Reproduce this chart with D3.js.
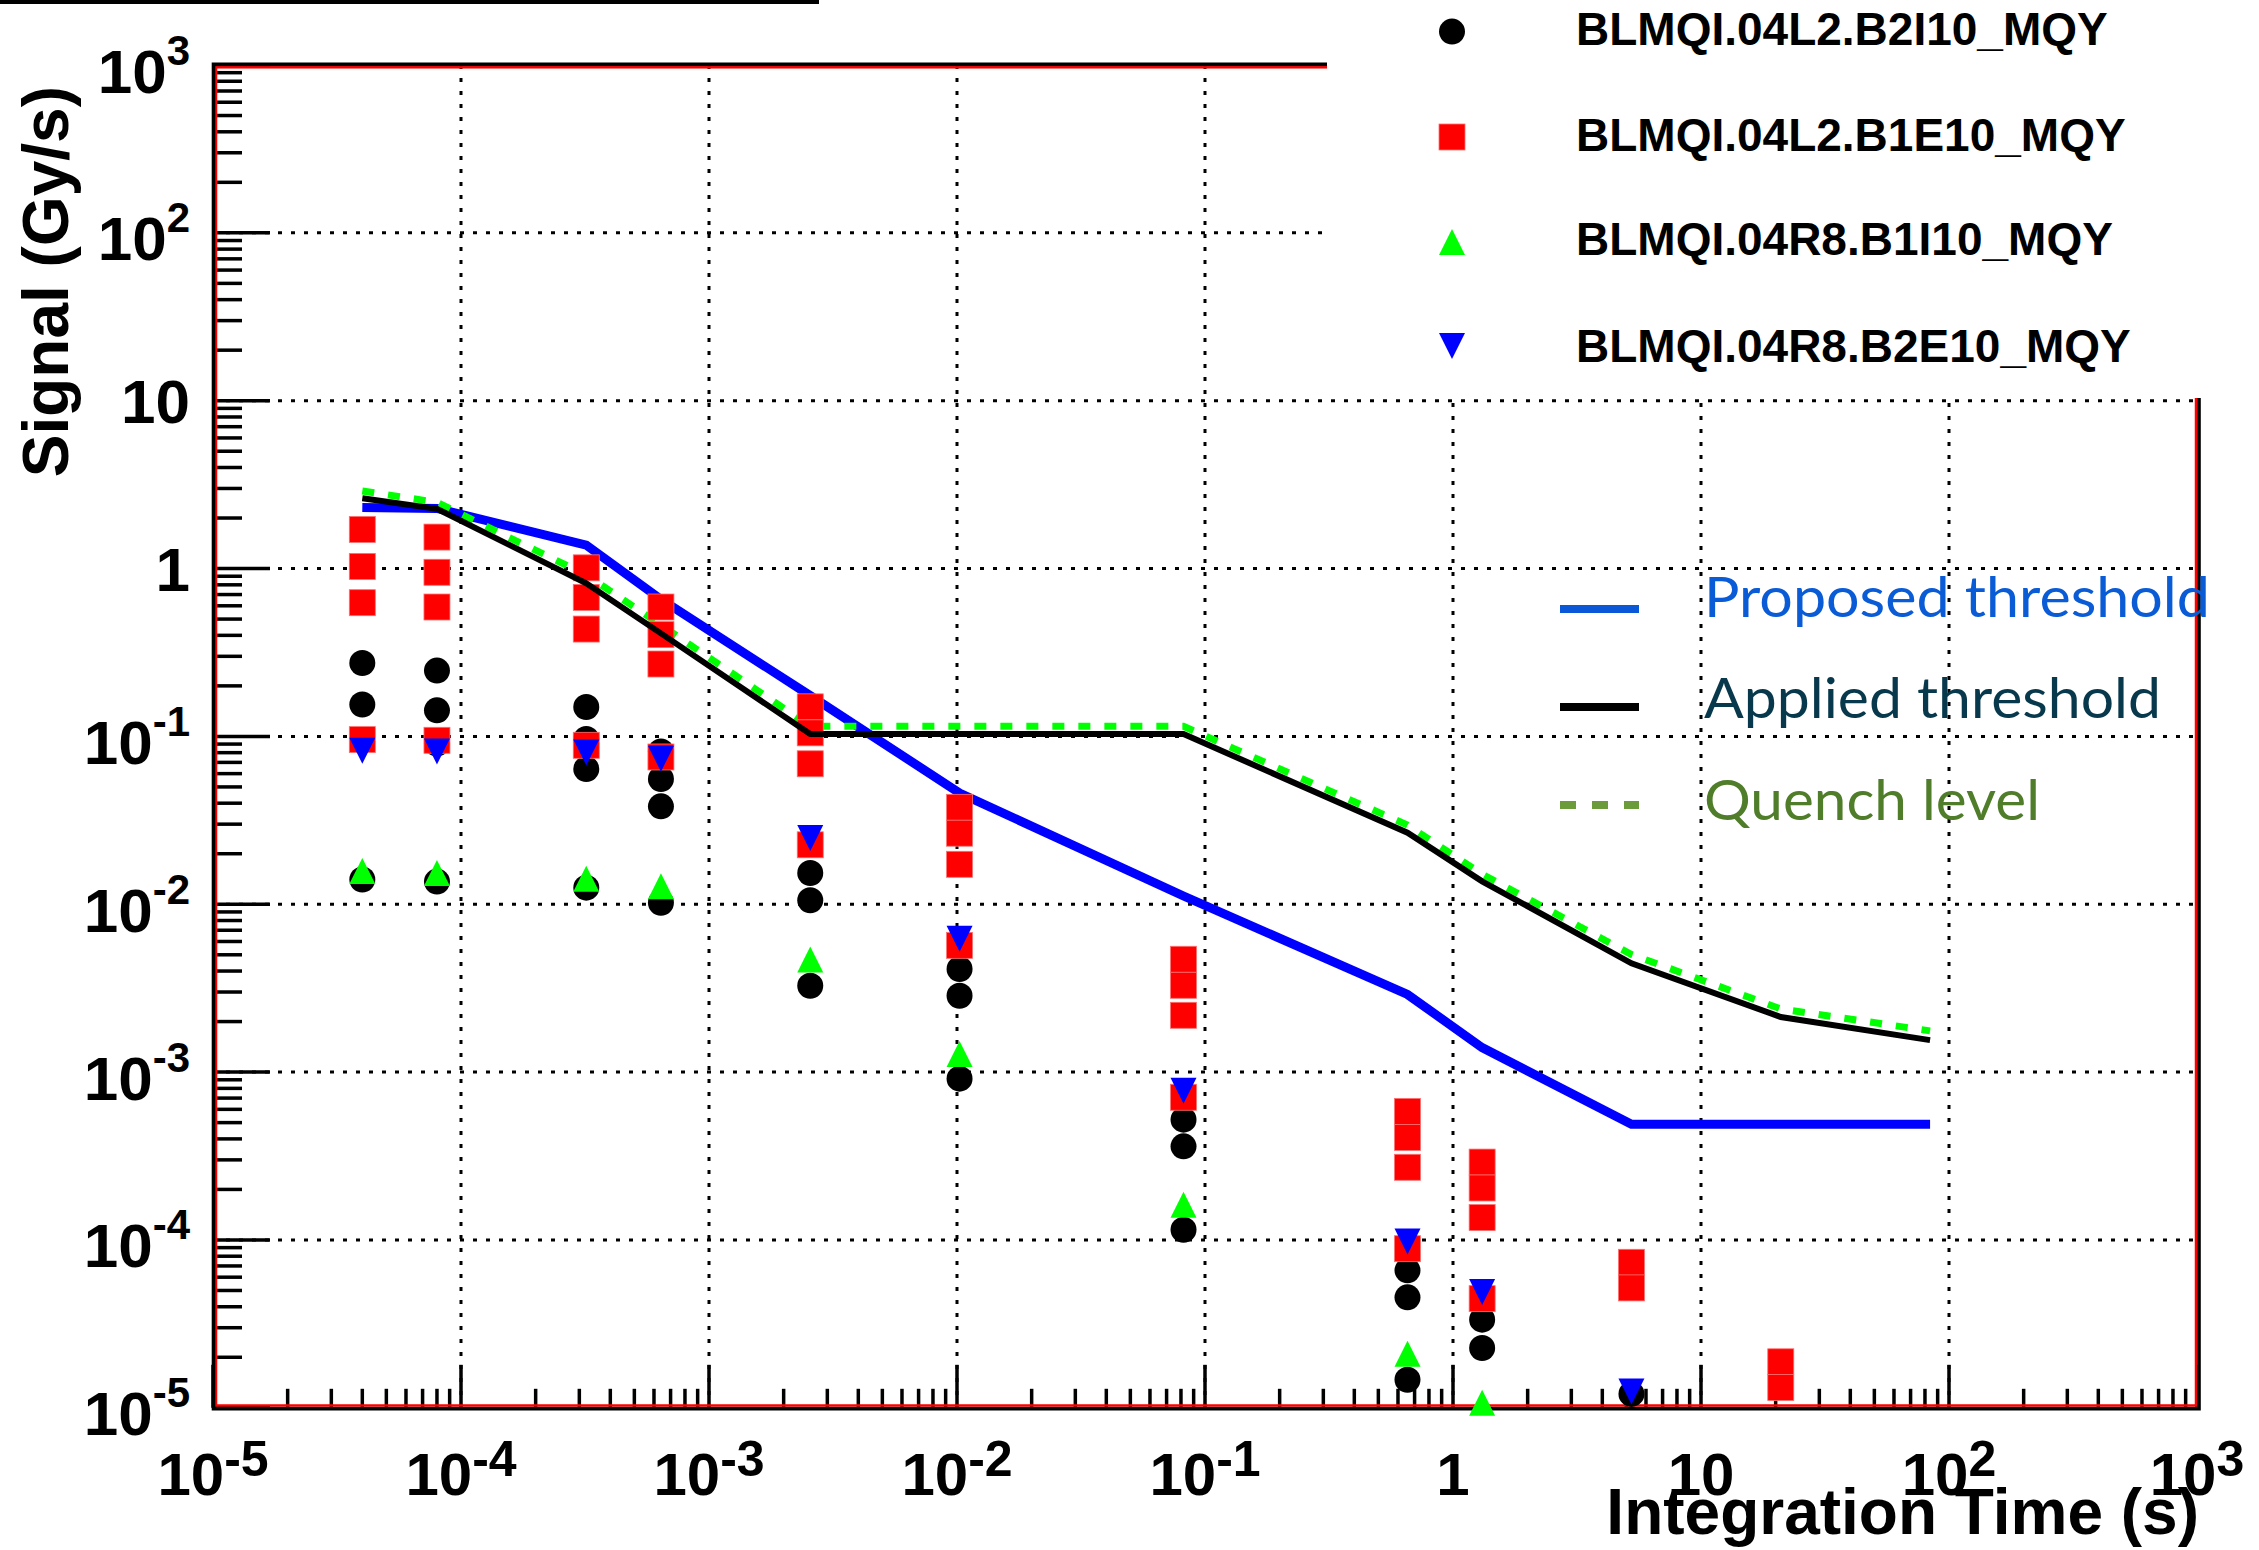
<!DOCTYPE html>
<html><head><meta charset="utf-8">
<script src="https://cdn.jsdelivr.net/npm/d3@7"></script>
<style>body{margin:0;background:#fff}svg{display:block}</style>
</head><body>
<svg id="c" width="2259" height="1550"></svg>
<script>
// ---------------- data ----------------
const times = [4e-5, 8e-5, 3.2e-4, 6.4e-4, 2.56e-3, 1.024e-2, 8.192e-2, 0.65536, 1.31072, 5.24288, 20.97152, 83.88608];
const proposedThreshold = [2.31, 2.28, 1.38, 0.656, 0.175, 0.046, 0.0112, 0.0029, 0.0014, 0.000489, 0.000489, 0.000489];
const appliedThreshold  = [2.62, 2.27, 0.817, 0.411, 0.1033, 0.1033, 0.1033, 0.0267, 0.0137, 0.00445, 0.00213, 0.00155];
const quenchLevel       = [2.90, 2.48, 0.916, 0.461, 0.1148, 0.1148, 0.1148, 0.0296, 0.0151, 0.00502, 0.00238, 0.00176];

// [index into times, signal]
const b2i10 = [[0,0.2735],[0,0.155],[0,0.01403],
  [1,0.2466],[1,0.143],[1,0.0906],[1,0.01365],
  [2,0.1496],[2,0.0966],[2,0.064],[2,0.01256],
  [3,0.0814],[3,0.0557],[3,0.0383],[3,0.0102],
  [4,0.01535],[4,0.01056],[4,0.00327],
  [5,0.00411],[5,0.00285],[5,0.000914],
  [6,0.000521],[6,0.000361],[6,0.000115],
  [7,6.59e-5],[7,4.55e-5],[7,1.47e-5],
  [8,3.35e-5],[8,2.27e-5],
  [9,1.21e-5]];
const b1e10 = [[0,1.71],[0,1.03],[0,0.626],[0,0.0957],
  [1,1.54],[1,0.95],[1,0.59],[1,0.0948],
  [2,1.01],[2,0.673],[2,0.436],[2,0.0885],
  [3,0.59],[3,0.404],[3,0.27],[3,0.0754],
  [4,0.150],[4,0.105],[4,0.0687],[4,0.0226],
  [5,0.0378],[5,0.0265],[5,0.0173],[5,0.00569],
  [6,0.0047],[6,0.00329],[6,0.00218],[6,0.000708],
  [7,0.000583],[7,0.000408],[7,0.000271],[7,8.87e-5],
  [8,0.000291],[8,0.000204],[8,0.000136],[8,4.47e-5],
  [9,7.36e-5],[9,5.18e-5],
  [10,1.88e-5],[10,1.32e-5]];
const b1i10 = [[0,0.0158],[1,0.01535],[2,0.0142],[3,0.0128],[4,0.00468],[5,0.00128],[6,0.000162],[7,2.10e-5],[8,1.07e-5]];
const b2e10 = [[0,0.0822],[1,0.0814],[2,0.0803],[3,0.0736],[4,0.0248],[5,0.00623],[6,0.000775],[7,9.8e-5],[8,4.9e-5],[9,1.25e-5]];

const seriesNames = ["BLMQI.04L2.B2I10_MQY", "BLMQI.04L2.B1E10_MQY", "BLMQI.04R8.B1I10_MQY", "BLMQI.04R8.B2E10_MQY"];
const lineLegendNames = ["Proposed threshold", "Applied threshold", "Quench level"];
const xTickValues = [1e-5,1e-4,1e-3,1e-2,1e-1,1,10,100,1000];
const xTickLabels = ["10^-5","10^-4","10^-3","10^-2","10^-1","1","10","10^2","10^3"];
const yTickValues = [1e3,1e2,10,1,1e-1,1e-2,1e-3,1e-4,1e-5];
const yTickLabels = ["10^3","10^2","10","1","10^-1","10^-2","10^-3","10^-4","10^-5"];
const xTitle = "Integration Time (s)";
const yTitle = "Signal (Gy/s)";

// ---------------- layout ----------------
const X0 = 213, X1 = 2197, Y0 = 65, Y1 = 1407.8;
const svg = d3.select("#c");
svg.append("rect").attr("width",2259).attr("height",1550).attr("fill","#fff");
const x = d3.scaleLog().domain([1e-5,1e3]).range([X0,X1]);
const y = d3.scaleLog().domain([1e-5,1e3]).range([Y1,Y0]);
const isMajor = v => Math.abs(Math.log10(v) - Math.round(Math.log10(v))) < 1e-9;
const BOLD = "'Liberation Sans', Arial, Helvetica, sans-serif";

// top-left bar (cropped box)
svg.append("rect").attr("x",0).attr("y",0).attr("width",819).attr("height",4).attr("fill","#000");

// grid
const grid = svg.append("g").attr("stroke","#000").attr("stroke-width",3).attr("stroke-dasharray","4,9");
xTickValues.filter(v => v > 1e-5 && v < 1e3).forEach(v => {
  grid.append("line").attr("x1",x(v)).attr("x2",x(v)).attr("y1",Y0).attr("y2",Y1);
});
yTickValues.filter(v => v > 1e-5 && v < 1e3).forEach(v => {
  grid.append("line").attr("x1",X0).attr("x2",X1).attr("y1",y(v)).attr("y2",y(v));
});

// ticks
const ticks = svg.append("g").attr("stroke","#000").attr("stroke-width",3.5);
y.ticks().forEach(v => {
  const L = isMajor(v) ? 57 : 29;
  ticks.append("line").attr("x1",X0).attr("x2",X0+L).attr("y1",y(v)).attr("y2",y(v));
});
x.ticks().forEach(v => {
  const L = isMajor(v) ? 43 : 19;
  ticks.append("line").attr("x1",x(v)).attr("x2",x(v)).attr("y1",Y1).attr("y2",Y1-L);
});

// frame
svg.append("rect").attr("x",216).attr("y",67.3).attr("width",1980).attr("height",1338.2)
  .attr("fill","none").attr("stroke","#ff0000").attr("stroke-width",2.5);
svg.append("rect").attr("x",213.5).attr("y",64.3).attr("width",1985.5).attr("height",1344.4)
  .attr("fill","none").attr("stroke","#000").attr("stroke-width",3.6);

// tick labels
function label(g, str, px, py, anchor, baseSize, supSize, raise){
  const parts = str.split("^");
  const t = g.append("text").attr("x",px).attr("y",py).attr("text-anchor",anchor)
    .attr("font-family",BOLD).attr("font-weight","bold").attr("font-size",baseSize).attr("fill","#000");
  t.append("tspan").text(parts[0]);
  if (parts.length > 1) t.append("tspan").attr("dy",-raise).attr("font-size",supSize).text(parts[1]);
}
const lab = svg.append("g");
yTickValues.forEach((v,i) => {
  const s = yTickLabels[i];
  label(lab, s, 190, y(v) + (s.includes("^") ? 27.5 : 22.5), "end", 62, 42, 28);
});
xTickValues.forEach((v,i) => {
  label(lab, xTickLabels[i], x(v), 1495, "middle", 60, 50, 19);
});

// axis titles
svg.append("text").attr("x",2199).attr("y",1534).attr("text-anchor","end")
  .attr("font-family",BOLD).attr("font-weight","bold").attr("font-size",64).text(xTitle);
svg.append("text").attr("transform","translate(68,86) rotate(-90)").attr("text-anchor","end")
  .attr("font-family",BOLD).attr("font-weight","bold").attr("font-size",64).text(yTitle);

// threshold lines (blue, green below markers)
const lineGen = arr => d3.line().x((d,i) => x(times[i])).y(d => y(d))(arr);
svg.append("path").attr("d",lineGen(proposedThreshold)).attr("fill","none")
  .attr("stroke","#0000ff").attr("stroke-width",9);
svg.append("path").attr("d",lineGen(quenchLevel)).attr("fill","none")
  .attr("stroke","#00ff00").attr("stroke-width",7).attr("stroke-dasharray","12,14");

// markers
const R = 13;
function drawMarker(g, type, cx, cy){
  if (type === 0) g.append("ellipse").attr("cx",cx).attr("cy",cy).attr("rx",R).attr("ry",R).attr("fill","#000");
  else if (type === 1) g.append("rect").attr("x",cx-R).attr("y",cy-R).attr("width",2*R).attr("height",2*R)
      .attr("fill","#ff0000").attr("stroke","#ff7070").attr("stroke-width",0.8);
  else if (type === 2) g.append("path").attr("d",`M${cx-R},${cy+R}L${cx+R},${cy+R}L${cx},${cy-R}Z`).attr("fill","#00ff00");
  else g.append("path").attr("d",`M${cx-R},${cy-R}L${cx+R},${cy-R}L${cx},${cy+R}Z`).attr("fill","#0000ff");
}
const mk = svg.append("g");
[b2i10, b1e10, b1i10, b2e10].forEach((ser, k) => {
  ser.forEach(([ti, v]) => drawMarker(mk, k, x(times[ti]), y(v)));
});

// applied threshold on top
svg.append("path").attr("d",lineGen(appliedThreshold)).attr("fill","none")
  .attr("stroke","#000").attr("stroke-width",6);

// marker legend (white box)
svg.append("rect").attr("x",1327).attr("y",0).attr("width",932).attr("height",398).attr("fill","#fff");
const legY = [31.6, 137, 242, 346];
const legBase = [45, 151, 255, 362];
seriesNames.forEach((n,k) => {
  drawMarker(svg, k, 1452, legY[k]);
  svg.append("text").attr("x",1576).attr("y",legBase[k]).attr("font-family",BOLD).attr("font-weight","bold")
    .attr("font-size",46).attr("fill","#000").text(n);
});

// line legend
const lineLegColors = ["#0a57d8", "#000000", "#6b9b3a"];
const lineLegText = ["#0a5bd6", "#07384b", "#4f7d29"];
const lineLegY = [609, 707, 805];
const lineLegBase = [617, 718, 820];
const lineLegWidth = [506, 457, 336];
lineLegendNames.forEach((n,k) => {
  const l = svg.append("line").attr("x1",1560).attr("x2",1639).attr("y1",lineLegY[k]).attr("y2",lineLegY[k])
    .attr("stroke",lineLegColors[k]).attr("stroke-width",8);
  if (k === 2) l.attr("stroke-dasharray","16,16");
  svg.append("text").attr("x",1704).attr("y",lineLegBase[k]).attr("font-family","Lato, 'Open Sans', sans-serif")
    .attr("font-size",57).attr("fill",lineLegText[k]).attr("textLength",lineLegWidth[k])
    .attr("lengthAdjust","spacingAndGlyphs").text(n);
});
</script>
</body></html>
